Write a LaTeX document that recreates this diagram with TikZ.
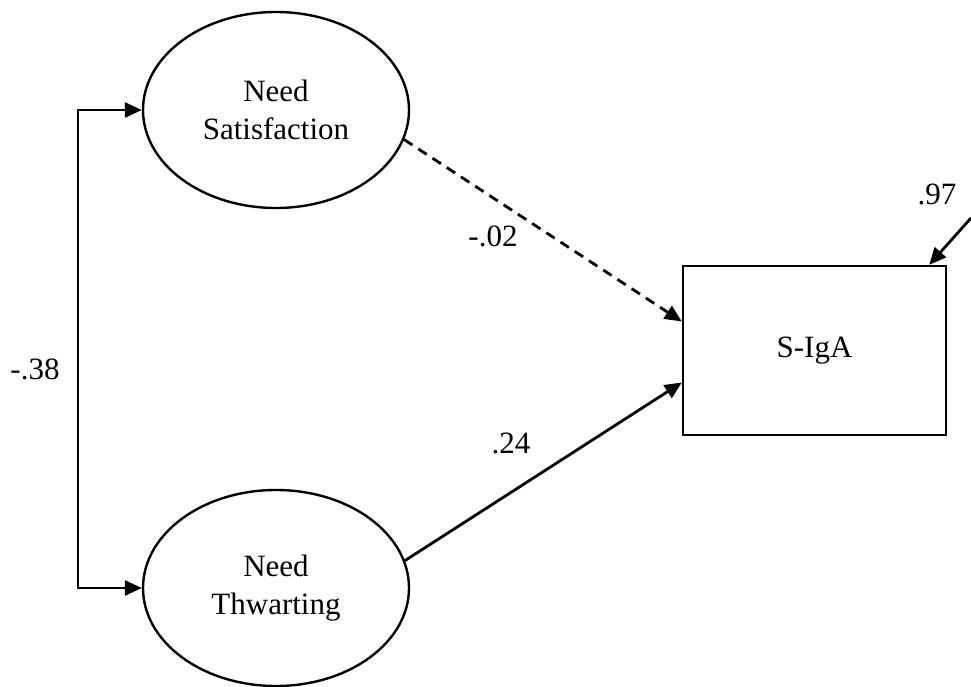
\documentclass[tikz,border=0pt]{standalone}
\usepackage{fontspec}
\setmainfont{Liberation Serif}
\usetikzlibrary{shapes.geometric,arrows.meta}
\begin{document}
\begin{tikzpicture}[x=1pt,y=-1pt,
  every node/.style={font=\fontsize{31}{38}\selectfont},
  latent/.style={ellipse,draw,line width=2.4pt,minimum width=266pt,minimum height=196pt,inner sep=0pt,align=center},
  observed/.style={rectangle,draw,line width=2.4pt,minimum width=263pt,minimum height=169pt,inner sep=0pt},
  arr/.style={line width=2.8pt,-{Triangle[length=17pt,width=15pt]}},
  biarr/.style={line width=2.8pt,{Triangle[length=17pt,width=15pt]}-{Triangle[length=17pt,width=15pt]}},
  coef/.style={inner sep=0pt}]
\useasboundingbox (0,0) rectangle (971,687);
\node[latent] (ns) at (276,110) {Need\\Satisfaction};
\node[latent] (nt) at (276,588) {Need\\Thwarting};
\node[observed] (y) at (814.5,350.5) {S-IgA};
\coordinate (bx) at (78,350);
\coordinate (err) at (971,218);
\draw[biarr] (ns.west) -- (bx |- ns.west) -- (bx |- nt.west) -- (nt.west);
\draw[arr,dash pattern=on 10pt off 7pt] (ns.-13) -- ([yshift=29pt]y.west);
\draw[arr] (nt.12) -- ([yshift=-32pt]y.west);
\draw[arr] (err) -- ([xshift=-18pt]y.north east);
\node[coef] (c1) at (35,369) {-.38};
\node[coef] (c2) at (493,236) {-.02};
\node[coef] (c3) at (511,443) {.24};
\node[coef] (c4) at (937,194) {.97};
\end{tikzpicture}
\end{document}
